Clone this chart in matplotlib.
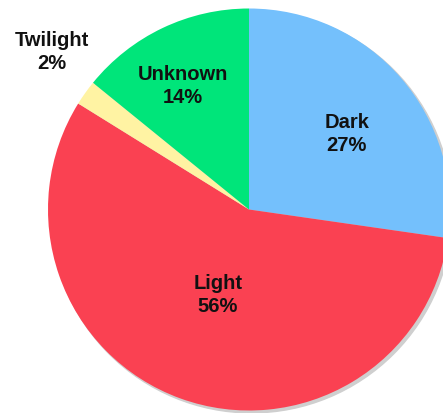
import numpy as np
import matplotlib.pyplot as plt
import matplotlib.patches as mpatches

labels = ["Dark", "Light", "Twilight", "Unknown"]
values = [27, 56, 2, 14]
colors = ["#74c0fc", "#fa4152", "#fff3a3", "#00e57a"]

plt.rcParams['font.family'] = ['Liberation Sans', 'DejaVu Sans']

fig = plt.figure(figsize=(4.43, 4.13), dpi=100)
ax = fig.add_axes([0, 0, 1, 1])

# soft grey shadow under the pie, lower right
ax.add_patch(mpatches.Circle((0.012, -0.012), 1.0, color="#cfcfcf", zorder=0))

wedges, _ = ax.pie(values, colors=colors, startangle=90, counterclock=False,
                   radius=1.0, wedgeprops=dict(linewidth=0))
for w in wedges:
    w.set_zorder(1)

# label placement: distance (fraction of radius) and angle nudge (deg)
dist = [0.615, 0.453, 1.256, 0.697]
nudge = [-3.3, 0.0, -3.2, 2.6]
for w, name, v, d, da in zip(wedges, labels, values, dist, nudge):
    ang = np.deg2rad((w.theta1 + w.theta2) / 2 + da)
    ax.text(d * np.cos(ang), d * np.sin(ang), f"{name}\n{v}%",
            ha="center", va="center", fontsize=14.5, fontweight="bold",
            color="#111111", linespacing=1.25, zorder=3)

# 201 px per unit both ways, centre at (249, 209.5) px
ax.set_aspect('auto')
ax.set_xlim(-249 / 201, (443 - 249) / 201)
ax.set_ylim(-(413 - 209.5) / 201, 209.5 / 201)
ax.axis('off')

fig.savefig("out.png", dpi=100)
